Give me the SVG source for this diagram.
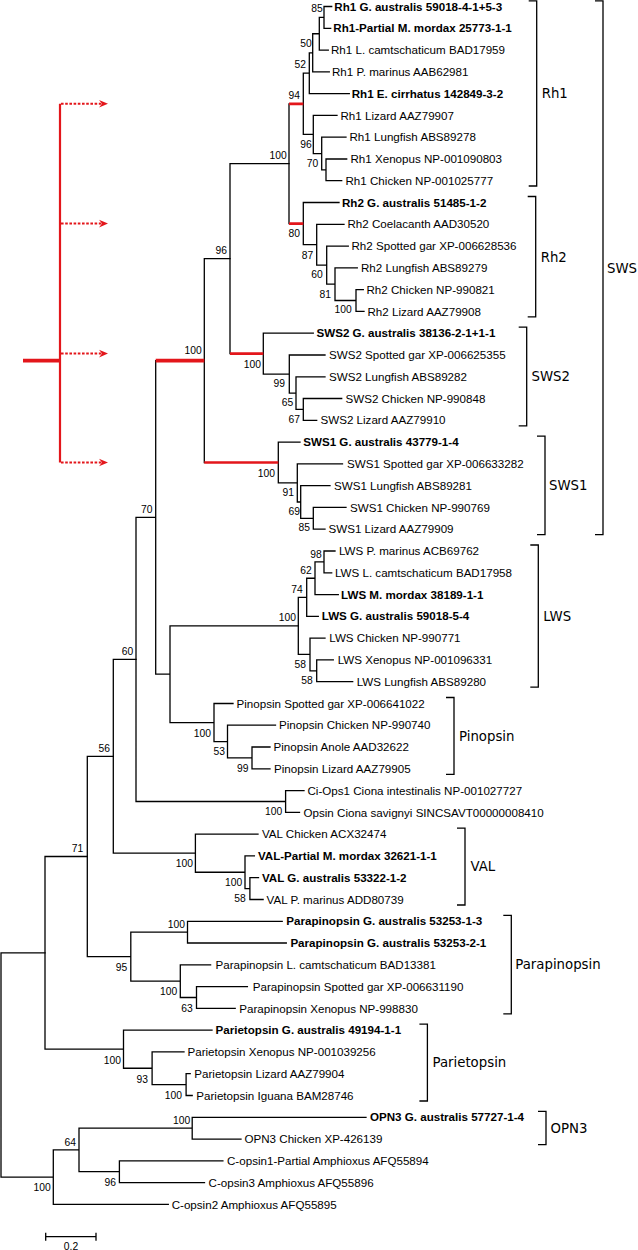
<svg xmlns="http://www.w3.org/2000/svg" width="638" height="1250" viewBox="0 0 638 1250">
<style>
.t{fill:none;stroke:#000;stroke-width:1.3;stroke-linecap:square}
.r{fill:none;stroke:#e3161b;stroke-width:2.6}
.rt{fill:none;stroke:#e3161b;stroke-width:3.6}
.rd{fill:none;stroke:#e3161b;stroke-width:2;stroke-dasharray:2.6 1.6}
.br{fill:none;stroke:#000;stroke-width:1.3}
text{font-family:"Liberation Sans",Arial,sans-serif;fill:#000}
.lf{font-size:11.6px}
.b{font-weight:bold}
.bs{font-size:10.3px;text-anchor:end}
.cl{font-family:"DejaVu Sans",Verdana,sans-serif;font-size:13.3px}
</style>
<defs>
<marker id="ah" markerUnits="userSpaceOnUse" markerWidth="10" markerHeight="9" refX="3" refY="4.5" orient="auto">
<path d="M0,0.7 L9,4.5 L0,8.3 L3,4.5 Z" fill="#e3161b"/>
</marker>
</defs>
<g id="connectors">
<path class="t" d="M331.7,6.5H324V28.3H330.7 M324,17.4H319.3V50.1H328.3 M319.3,33.75H312.7V71.8H329.3 M312.7,52.78H309.3V93.6H349.3 M346.7,159H326V180.7H341.7 M346,137.2H321.7V169.85H326 M337,115.4H313.3V153.53H321.7 M309.3,73.19H303.3V134.46H313.3"/>
<path class="t" d="M363.3,289.6H356V311.4H364 M357.3,267.9H335V300.5H356 M348.3,246.1H326.7V284.2H335 M344,224.3H316.7V265.15H326.7 M339,202.5H303.3V244.72H316.7 M289,103.83V223.61"/>
<path class="t" d="M341.7,398.5H303.3V420.3H316.7 M325,376.8H296V409.4H303.3 M325,355H289.3V393.1H296 M313.3,333.2H263.3V374.05H289.3 M289,163.72H230V353.63"/>
<path class="t" d="M346,507.4H313.3V529.2H325 M330,485.7H300.7V518.3H313.3 M342.5,463.9H297.3V502H300.7 M300,442.1H278.3V482.95H297.3 M230,258.67H204.3V462.53"/>
<path class="t" d="M335,551H324V572.8H331.7 M324,561.9H315V594.6H338.3 M315,578.25H306.7V616.3H318.3 M333.3,659.9H316.7V681.7H352.7 M325,638.1H310V670.8H316.7 M306.7,597.28H298.3V654.45H310"/>
<path class="t" d="M270,747H252V768.8H270 M275.5,725.2H227.5V757.9H252 M233,703.5H214V741.55H227.5 M298.3,625.87H170V722.53H214 M155.7,360.6V674.2H170 M304,790.6H285.6V812.4H299.5 M155.7,517.4H136V801.5H285.6"/>
<path class="t" d="M258.5,877.7H249.9V899.5H263.1 M254.4,855.9H245V888.6H249.9 M258,834.1H195.4V872.25H245 M136,659.45H113.3V853.18H195.4"/>
<path class="t" d="M282.2,921.3H187.5V943H286.3 M247.4,986.6H196.5V1008.4H235.2 M210.6,964.8H180.3V997.5H196.5 M187.5,932.15H130.8V981.15H180.3 M113.3,756.3H87.3V956.65H130.8"/>
<path class="t" d="M190.2,1073.7H186.1V1095.5H192.2 M184,1051.9H152.1V1084.6H186.1 M212,1030.2H123.5V1068.25H152.1 M87.3,856.5H45V1049.2H123.5"/>
<path class="t" d="M366,1117.3H192.2V1139.1H241 M222.9,1160.8H119.4V1182.6H204.5 M192.2,1128.2H79V1171.7H119.4 M79,1149.95H53.3V1204.4H168.3 M45,952.85H1V1177.2H53.3"/>
<path class="r" d="M289,103.83H303.3 M289,223.61H303.3 M230,353.63H263.3 M204.3,462.53H278.3"/>
<path class="rt" d="M155.7,360.6H204.3"/>
</g>
<g id="indicator">
<path class="rt" d="M23,360.6H60"/>
<path class="r" style="stroke-width:2.2" d="M60,103.8V462.5"/>
<path class="rd" marker-end="url(#ah)" d="M61,103.8H102"/>
<path class="rd" marker-end="url(#ah)" d="M61,223.6H102"/>
<path class="rd" marker-end="url(#ah)" d="M61,353.6H102"/>
<path class="rd" marker-end="url(#ah)" d="M61,462.5H102"/>
</g>
<g id="leaves" class="lf">
<g id="leaf0"><text class="lf b" x="334.3" y="10.6">Rh1 G. australis 59018-4-1+5-3</text></g>
<g id="leaf1"><text class="lf b" x="333.3" y="32.4">Rh1-Partial M. mordax 25773-1-1</text></g>
<g id="leaf2"><text class="lf" x="331" y="54.2">Rh1 L. camtschaticum BAD17959</text></g>
<g id="leaf3"><text class="lf" x="332" y="75.9">Rh1 P. marinus AAB62981</text></g>
<g id="leaf4"><text class="lf b" x="351.7" y="97.7">Rh1 E. cirrhatus 142849-3-2</text></g>
<g id="leaf5"><text class="lf" x="340.5" y="119.5">Rh1 Lizard AAZ79907</text></g>
<g id="leaf6"><text class="lf" x="349.5" y="141.3">Rh1 Lungfish ABS89278</text></g>
<g id="leaf7"><text class="lf" x="350.5" y="163.1">Rh1 Xenopus NP-001090803</text></g>
<g id="leaf8"><text class="lf" x="345.5" y="184.8">Rh1 Chicken NP-001025777</text></g>
<g id="leaf9"><text class="lf b" x="342" y="206.6">Rh2 G. australis 51485-1-2</text></g>
<g id="leaf10"><text class="lf" x="347.5" y="228.4">Rh2 Coelacanth AAD30520</text></g>
<g id="leaf11"><text class="lf" x="351.5" y="250.2">Rh2 Spotted gar XP-006628536</text></g>
<g id="leaf12"><text class="lf" x="361" y="272">Rh2 Lungfish ABS89279</text></g>
<g id="leaf13"><text class="lf" x="366.5" y="293.7">Rh2 Chicken NP-990821</text></g>
<g id="leaf14"><text class="lf" x="367.5" y="315.5">Rh2 Lizard AAZ79908</text></g>
<g id="leaf15"><text class="lf b" x="316.5" y="337.3">SWS2 G. australis 38136-2-1+1-1</text></g>
<g id="leaf16"><text class="lf" x="329" y="359.1">SWS2 Spotted gar XP-006625355</text></g>
<g id="leaf17"><text class="lf" x="329" y="380.9">SWS2 Lungfish ABS89282</text></g>
<g id="leaf18"><text class="lf" x="345.5" y="402.6">SWS2 Chicken NP-990848</text></g>
<g id="leaf19"><text class="lf" x="320.5" y="424.4">SWS2 Lizard AAZ79910</text></g>
<g id="leaf20"><text class="lf b" x="303.3" y="446.2">SWS1 G. australis 43779-1-4</text></g>
<g id="leaf21"><text class="lf" x="347" y="468">SWS1 Spotted gar XP-006633282</text></g>
<g id="leaf22"><text class="lf" x="334" y="489.8">SWS1 Lungfish ABS89281</text></g>
<g id="leaf23"><text class="lf" x="350" y="511.5">SWS1 Chicken NP-990769</text></g>
<g id="leaf24"><text class="lf" x="328.5" y="533.3">SWS1 Lizard AAZ79909</text></g>
<g id="leaf25"><text class="lf" x="339" y="555.1">LWS P. marinus ACB69762</text></g>
<g id="leaf26"><text class="lf" x="335" y="576.9">LWS L. camtschaticum BAD17958</text></g>
<g id="leaf27"><text class="lf b" x="341" y="598.7">LWS M. mordax 38189-1-1</text></g>
<g id="leaf28"><text class="lf b" x="321.7" y="620.4">LWS G. australis 59018-5-4</text></g>
<g id="leaf29"><text class="lf" x="329.3" y="642.2">LWS Chicken NP-990771</text></g>
<g id="leaf30"><text class="lf" x="337.7" y="664">LWS Xenopus NP-001096331</text></g>
<g id="leaf31"><text class="lf" x="356.7" y="685.8">LWS Lungfish ABS89280</text></g>
<g id="leaf32"><text class="lf" x="236.5" y="707.6">Pinopsin Spotted gar XP-006641022</text></g>
<g id="leaf33"><text class="lf" x="279" y="729.3">Pinopsin Chicken NP-990740</text></g>
<g id="leaf34"><text class="lf" x="273.5" y="751.1">Pinopsin Anole AAD32622</text></g>
<g id="leaf35"><text class="lf" x="274" y="772.9">Pinopsin Lizard AAZ79905</text></g>
<g id="leaf36"><text class="lf" x="307.5" y="794.7">Ci-Ops1 Ciona intestinalis NP-001027727</text></g>
<g id="leaf37"><text class="lf" x="303.5" y="816.5">Opsin Ciona savignyi SINCSAVT00000008410</text></g>
<g id="leaf38"><text class="lf" x="262" y="838.2">VAL Chicken ACX32474</text></g>
<g id="leaf39"><text class="lf b" x="257.9" y="860">VAL-Partial M. mordax 32621-1-1</text></g>
<g id="leaf40"><text class="lf b" x="262" y="881.8">VAL G. australis 53322-1-2</text></g>
<g id="leaf41"><text class="lf" x="266.6" y="903.6">VAL P. marinus ADD80739</text></g>
<g id="leaf42"><text class="lf b" x="286.3" y="925.4">Parapinopsin G. australis 53253-1-3</text></g>
<g id="leaf43"><text class="lf b" x="290.4" y="947.1">Parapinopsin G. australis 53253-2-1</text></g>
<g id="leaf44"><text class="lf" x="215.5" y="968.9">Parapinopsin L. camtschaticum BAD13381</text></g>
<g id="leaf45"><text class="lf" x="252.8" y="990.7">Parapinopsin Spotted gar XP-006631190</text></g>
<g id="leaf46"><text class="lf" x="239.3" y="1012.5">Parapinopsin Xenopus NP-998830</text></g>
<g id="leaf47"><text class="lf b" x="215.5" y="1034.3">Parietopsin G. australis 49194-1-1</text></g>
<g id="leaf48"><text class="lf" x="187.5" y="1056">Parietopsin Xenopus NP-001039256</text></g>
<g id="leaf49"><text class="lf" x="194.3" y="1077.8">Parietopsin Lizard AAZ79904</text></g>
<g id="leaf50"><text class="lf" x="196.3" y="1099.6">Parietopsin Iguana BAM28746</text></g>
<g id="leaf51"><text class="lf b" x="370" y="1121.4">OPN3 G. australis 57727-1-4</text></g>
<g id="leaf52"><text class="lf" x="244.5" y="1143.2">OPN3 Chicken XP-426139</text></g>
<g id="leaf53"><text class="lf" x="227" y="1164.9">C-opsin1-Partial Amphioxus AFQ55894</text></g>
<g id="leaf54"><text class="lf" x="208.6" y="1186.7">C-opsin3 Amphioxus AFQ55896</text></g>
<g id="leaf55"><text class="lf" x="171.7" y="1208.5">C-opsin2 Amphioxus AFQ55895</text></g>
</g>
<g id="bootstrap">
<text class="bs" x="322.7" y="12">85</text>
<text class="bs" x="311.7" y="47">50</text>
<text class="bs" x="306" y="67.7">52</text>
<text class="bs" x="300" y="98.7">94</text>
<text class="bs" x="311.7" y="147.7">96</text>
<text class="bs" x="318.3" y="167">70</text>
<text class="bs" x="286.7" y="158.7">100</text>
<text class="bs" x="300" y="237">80</text>
<text class="bs" x="313.3" y="258.7">87</text>
<text class="bs" x="322.7" y="278">60</text>
<text class="bs" x="331" y="297.7">81</text>
<text class="bs" x="351.7" y="313">100</text>
<text class="bs" x="261" y="367.7">100</text>
<text class="bs" x="285" y="386.7">99</text>
<text class="bs" x="293.3" y="406.4">65</text>
<text class="bs" x="300" y="423">67</text>
<text class="bs" x="227" y="253.7">96</text>
<text class="bs" x="201.7" y="354.2">100</text>
<text class="bs" x="275" y="476.7">100</text>
<text class="bs" x="294" y="496.4">91</text>
<text class="bs" x="300" y="515.4">69</text>
<text class="bs" x="310" y="531.4">85</text>
<text class="bs" x="321.7" y="557.7">98</text>
<text class="bs" x="311.7" y="573.7">62</text>
<text class="bs" x="302.7" y="593">74</text>
<text class="bs" x="296" y="621">100</text>
<text class="bs" x="306" y="667.7">58</text>
<text class="bs" x="312.7" y="684.4">58</text>
<text class="bs" x="152.5" y="512.9">70</text>
<text class="bs" x="211" y="736.7">100</text>
<text class="bs" x="225" y="755.4">53</text>
<text class="bs" x="248.5" y="772">99</text>
<text class="bs" x="282.2" y="815.4">100</text>
<text class="bs" x="133.3" y="655.4">60</text>
<text class="bs" x="110" y="751.7">56</text>
<text class="bs" x="83.3" y="851.7">71</text>
<text class="bs" x="193" y="867">100</text>
<text class="bs" x="242.3" y="886.4">100</text>
<text class="bs" x="245.7" y="902">58</text>
<text class="bs" x="185" y="928">100</text>
<text class="bs" x="127.3" y="970.7">95</text>
<text class="bs" x="177.3" y="994.7">100</text>
<text class="bs" x="192.7" y="1011.7">63</text>
<text class="bs" x="121" y="1063.7">100</text>
<text class="bs" x="148" y="1083">93</text>
<text class="bs" x="182" y="1098.7">100</text>
<text class="bs" x="190.2" y="1123.7">100</text>
<text class="bs" x="76" y="1146.4">64</text>
<text class="bs" x="116" y="1185.7">96</text>
<text class="bs" x="50.7" y="1191.4">100</text>
</g>
<g id="clade-Rh1"><path class="br" d="M528.7,0.8H536.7V186H528.7"/><text class="cl" x="541.7" y="98.2">Rh1</text></g>
<g id="clade-Rh2"><path class="br" d="M527.7,196.5H535.7V316.9H527.7"/><text class="cl" x="540.7" y="261.5">Rh2</text></g>
<g id="clade-SWS2"><path class="br" d="M518.7,327.2H526.7V425.8H518.7"/><text class="cl" x="531.5" y="381.3">SWS2</text></g>
<g id="clade-SWS1"><path class="br" d="M537,436.1H545V534.7H537"/><text class="cl" x="549" y="490.2">SWS1</text></g>
<g id="clade-SWS"><path class="br" d="M595,0.8H603V534.7H595"/><text class="cl" x="607" y="272.6">SWS</text></g>
<g id="clade-LWS"><path class="br" d="M530.3,545H538.3V687.2H530.3"/><text class="cl" x="543.3" y="620.9">LWS</text></g>
<g id="clade-Pinopsin"><path class="br" d="M446,697.5H454V774.3H446"/><text class="cl" x="459" y="740.7">Pinopsin</text></g>
<g id="clade-VAL"><path class="br" d="M457,828.1H465V905H457"/><text class="cl" x="470.4" y="871.3">VAL</text></g>
<g id="clade-Parapinopsin"><path class="br" d="M503.3,915.3H511.3V1013.9H503.3"/><text class="cl" x="515.3" y="969.4">Parapinopsin</text></g>
<g id="clade-Parietopsin"><path class="br" d="M419.4,1024.2H427.4V1101H419.4"/><text class="cl" x="432.5" y="1067.4">Parietopsin</text></g>
<g id="clade-OPN3"><path class="br" d="M538,1111.3H546V1144.6H538"/><text class="cl" x="550.5" y="1132.8">OPN3</text></g>
<g id="scale-bar"><path class="br" d="M45.7,1232.7V1240.7 M45.7,1236.7H96 M96,1232.7V1240.7"/><text class="bs" style="text-anchor:middle" x="71" y="1249.5">0.2</text></g>
</svg>
